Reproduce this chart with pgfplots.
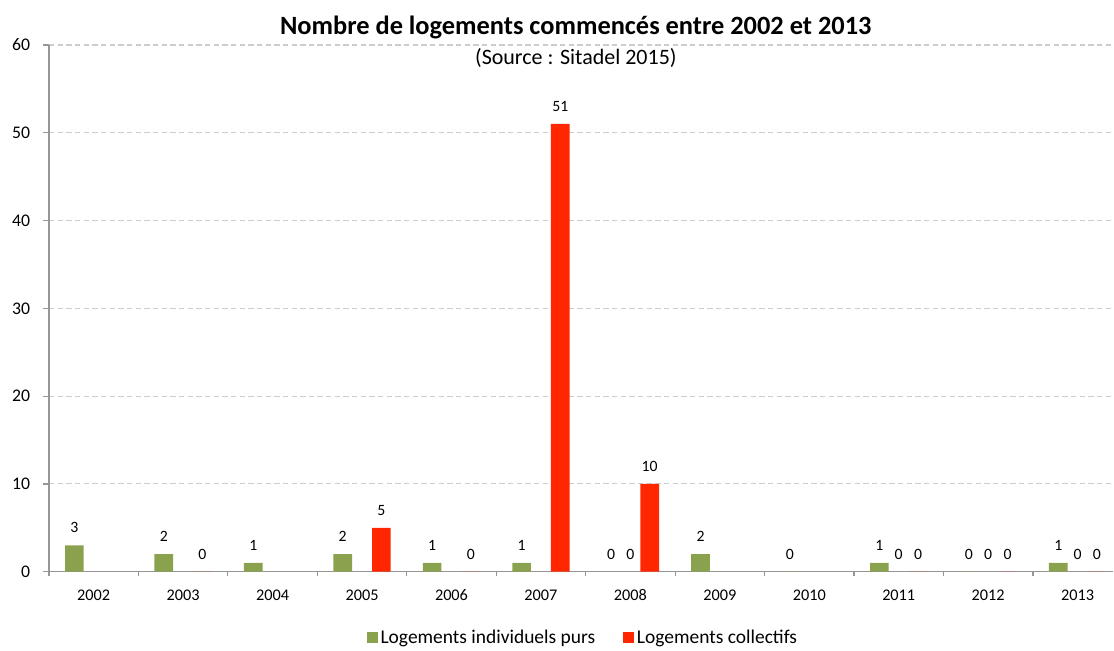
\documentclass[border=0pt]{standalone}
\usepackage{pgfplots}
\pgfplotsset{compat=1.18}
\usepackage{fontspec}
\setmainfont{Carlito}
\definecolor{vert}{RGB}{138,162,78}
\definecolor{rouge}{RGB}{255,38,0}
\definecolor{axe}{RGB}{150,150,150}
\definecolor{grille}{RGB}{205,205,205}
\begin{document}
\begin{tikzpicture}
\begin{axis}[
  scale only axis, width=798.75pt, height=395.25pt,
  xmin=-0.5, xmax=11.4, ymin=0, ymax=60,
  clip=false,
  /pgf/number format/assume math mode=true,
  axis x line*=bottom, axis y line*=left,
  axis line style={axe, line width=0.9pt},
  every outer x axis line/.append style={-}, every outer y axis line/.append style={-},
  ytick={0,10,...,60},
  xtick={0,...,11},
  xticklabels={2002,2003,2004,2005,2006,2007,2008,2009,2010,2011,2012,2013},
  minor xtick={-0.5,0.5,...,11.5},
  major x tick style={draw=none},
  minor x tick style={axe, line width=0.9pt},
  y tick style={axe, line width=0.9pt},
  tick align=outside,
  major tick length=4.5pt, minor tick length=3.5pt,
  ymajorgrids, major grid style={grille, line width=0.8pt, dash pattern=on 4pt off 2.5pt},
  yticklabel style={font=\fontsize{13.3}{14}\selectfont, inner sep=0pt, anchor=east, xshift=-9.5pt},
  xticklabel style={font=\fontsize{12.2}{13}\selectfont, inner sep=0pt, anchor=north, text height=8.2pt, yshift=-9pt},
  ybar, bar width=14pt,
  nodes near coords,
  nodes near coords style={font=\fontsize{11.8}{12}\selectfont, anchor=south, inner sep=0pt, yshift=9pt, black},
  legend columns=2,
  legend style={at={(axis description cs:0.502,-0.1245)}, anchor=center, draw=none, fill=none,
    font=\fontsize{14.6}{15}\selectfont, /tikz/every even column/.append style={column sep=19pt}},
  legend image code/.code={\fill[#1] (0pt,-4.1pt) rectangle (8.3pt,4.1pt);},
]
\addplot[fill=vert, draw=none, bar shift=-14.5pt] coordinates {
 (0,3) (1,2) (2,1) (3,2) (4,1) (5,1) (6,0) (7,2) (8,0) (9,1) (10,0) (11,1)};
\addlegendentry{Logements individuels purs}
\addplot[fill=none, draw=none, bar shift=0pt, forget plot] coordinates {
 (6,0) (9,0) (10,0) (11,0)};
\addplot[fill=rouge, draw=none, bar shift=14.5pt] coordinates {
 (1,0) (3,5) (4,0) (5,51) (6,10) (9,0) (10,0) (11,0)};
\addlegendentry{Logements collectifs}
\node[font=\bfseries\fontsize{19.8}{20}\selectfont, anchor=center] at ([yshift=13.5pt]axis description cs:0.495,1) {Nombre de logements commencés entre 2002 et 2013};
\node[font=\fontsize{16.5}{17}\selectfont, anchor=center] at ([yshift=-9.75pt]axis description cs:0.495,1) {(Source : Sitadel 2015)};
\end{axis}
\path[use as bounding box] (-36.75pt,-57.75pt) rectangle (798.75pt,429pt);
\end{tikzpicture}
\end{document}
